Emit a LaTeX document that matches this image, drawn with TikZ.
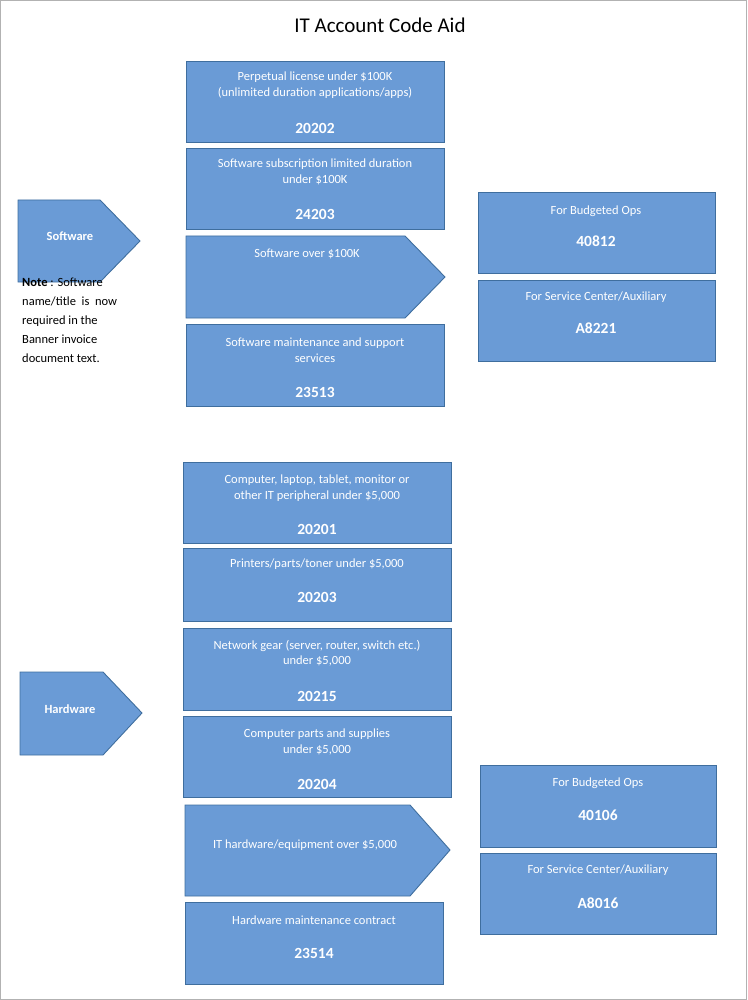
\documentclass[tikz,border=0pt]{standalone}
\usepackage{fontspec}
\setmainfont{Carlito}
\begin{document}
\begin{tikzpicture}[x=1pt,y=-1pt,
  box/.style={draw=boxline,fill=boxfill,line width=0.9pt},
  txt/.style={text=white,font=\fontsize{12.5}{15.5}\selectfont,align=center,inner sep=0pt},
  code/.style={text=white,font=\bfseries\fontsize{15.5}{18}\selectfont,inner sep=0pt},
  lbl/.style={text=white,font=\bfseries\fontsize{12.5}{15}\selectfont,inner sep=0pt}]
\definecolor{boxfill}{HTML}{6A9BD6}
\definecolor{boxline}{HTML}{3F6E9E}
\useasboundingbox (0,0) rectangle (747,1000);
\draw[gray!60] (0.5,0.5) rectangle (746.5,999.5);
\node[font=\fontsize{21}{24}\selectfont,inner sep=0pt] (title) at (380,25) {IT Account Code Aid};
% software column
\draw[box] (186,61) rectangle (444,142);
\node[txt] (t1) at (315,85) {Perpetual license under \$100K\\(unlimited duration applications/apps)};
\node[code] (c1) at (315,128) {20202};
\draw[box] (186,148) rectangle (444,229);
\node[txt] (t2) at (315,172) {Software subscription limited duration\\under \$100K};
\node[code] (c2) at (315,214) {24203};
\draw[box] (186,236) -- (405,236) -- (445,277) -- (405,318) -- (186,318) -- cycle;
\node[txt] (t3) at (307,254) {Software over \$100K};
\draw[box] (186,324) rectangle (444,406);
\node[txt] (t4) at (315,350) {Software maintenance and support\\services};
\node[code] (c4) at (315,392) {23513};
\draw[box] (18,200) -- (100,200) -- (140,241) -- (100,282) -- (18,282) -- cycle;
\node[lbl] (sw) at (70,236) {Software};
\node[font=\fontsize{12.5}{19}\selectfont,align=left,anchor=north west,inner sep=0pt] (note) at (22,278)
  {\textbf{Note} : Software\\name/title\ \ is\ \ now\\required in the\\Banner invoice\\document text.};
\draw[box] (478,192) rectangle (715,273);
\node[txt] (r1) at (596,211) {For Budgeted Ops};
\node[code] (rc1) at (596,241) {40812};
\draw[box] (478,280) rectangle (715,361);
\node[txt] (r2) at (596,297) {For Service Center/Auxiliary};
\node[code] (rc2) at (596,328) {A8221};
% hardware column
\draw[box] (183,462) rectangle (451,543);
\node[txt] (h1) at (317,488) {Computer, laptop, tablet, monitor or\\other IT peripheral under \$5,000};
\node[code] (hc1) at (317,529) {20201};
\draw[box] (183,548) rectangle (451,621);
\node[txt] (h2) at (317,564) {Printers/parts/toner under \$5,000};
\node[code] (hc2) at (317,597) {20203};
\draw[box] (183,628) rectangle (451,710);
\node[txt] (h3) at (317,653) {Network gear (server, router, switch etc.)\\under \$5,000};
\node[code] (hc3) at (317,696) {20215};
\draw[box] (183,716) rectangle (451,797);
\node[txt] (h4) at (317,742) {Computer parts and supplies\\under \$5,000};
\node[code] (hc4) at (317,784) {20204};
\draw[box] (185,805) -- (410,805) -- (450,850) -- (410,896) -- (185,896) -- cycle;
\node[txt] (h5) at (305,845) {IT hardware/equipment over \$5,000};
\draw[box] (185,902) rectangle (443,984);
\node[txt] (h6) at (314,920) {Hardware maintenance contract};
\node[code] (hc6) at (314,953) {23514};
\draw[box] (20,672) -- (103,672) -- (142,713) -- (103,755) -- (20,755) -- cycle;
\node[lbl] (hw) at (70,709) {Hardware};
\draw[box] (480,765) rectangle (716,847);
\node[txt] (r3) at (598,783) {For Budgeted Ops};
\node[code] (rc3) at (598,815) {40106};
\draw[box] (480,853) rectangle (716,934);
\node[txt] (r4) at (598,870) {For Service Center/Auxiliary};
\node[code] (rc4) at (598,903) {A8016};
\end{tikzpicture}
\end{document}
